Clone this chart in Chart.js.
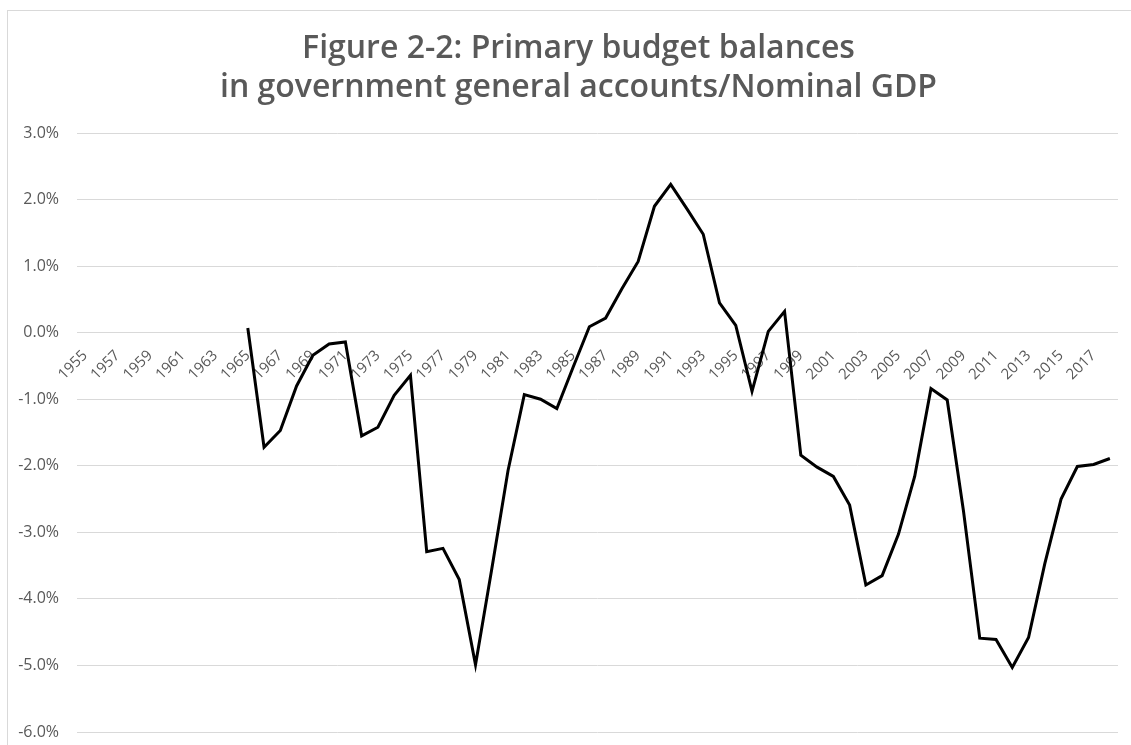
<!DOCTYPE html>
<html>
<head>
<meta charset="utf-8">
<script src="https://cdn.jsdelivr.net/npm/chart.js@4.4.1/dist/chart.umd.min.js"></script>
<style>
  html, body { margin: 0; padding: 0; background: #fff; overflow: hidden; }
  #frame { position: absolute; left: 7px; top: 10px; width: 1200px; height: 800px; border: 1px solid #d9d9d9; }
  #wrap { position: absolute; left: 0; top: 0; width: 1157px; height: 745px; }
</style>
</head>
<body>
<div id="frame"></div>
<div id="wrap"><canvas id="chart"></canvas></div>
<script>
// Fiscal years on the category axis
const years = [
  '1955', '1956', '1957', '1958', '1959', '1960', '1961', '1962', '1963', '1964',
  '1965', '1966', '1967', '1968', '1969', '1970', '1971', '1972', '1973', '1974',
  '1975', '1976', '1977', '1978', '1979', '1980', '1981', '1982', '1983', '1984',
  '1985', '1986', '1987', '1988', '1989', '1990', '1991', '1992', '1993', '1994',
  '1995', '1996', '1997', '1998', '1999', '2000', '2001', '2002', '2003', '2004',
  '2005', '2006', '2007', '2008', '2009', '2010', '2011', '2012', '2013', '2014',
  '2015', '2016', '2017', '2018'
];

// Primary balance / nominal GDP (%), no data before 1965
const primaryBalance = [
  null, null, null, null, null, null, null, null, null, null,
  0.07, -1.72, -1.47, -0.80, -0.34, -0.17, -0.14, -1.55, -1.42, -0.94,
  -0.64, -3.29, -3.24, -3.71, -4.99, -3.55, -2.07, -0.93, -1.00, -1.14,
  -0.52, 0.09, 0.22, 0.66, 1.07, 1.90, 2.23, 1.86, 1.48, 0.45,
  0.11, -0.88, 0.02, 0.32, -1.84, -2.02, -2.16, -2.59, -3.79, -3.65,
  -3.03, -2.16, -0.84, -1.01, -2.68, -4.59, -4.61, -5.03, -4.58, -3.47,
  -2.50, -2.01, -1.98, -1.89
];

const titleLines = [
  'Figure 2-2: Primary budget balances',
  'in government general accounts/Nominal GDP'
];

const grey = '#595959';
const gridGrey = '#d9d9d9';

const ctx = document.getElementById('chart').getContext('2d');
new Chart(ctx, {
  type: 'line',
  data: {
    labels: years,
    datasets: [{
      label: 'Primary balance',
      data: primaryBalance,
      borderColor: '#000000',
      borderWidth: 3,
      pointRadius: 0,
      tension: 0,
      spanGaps: false
    }]
  },
  options: {
    responsive: true,
    maintainAspectRatio: false,
    animation: false,
    layout: { padding: { left: 0, right: 0, top: 0, bottom: 13 } },
    plugins: {
      legend: { display: false },
      tooltip: { enabled: false },
      title: {
        display: true,
        text: titleLines,
        color: grey,
        font: { family: 'Open Sans', size: 32, weight: '600', lineHeight: 1.22 },
        padding: { top: 29, bottom: 26 }
      }
    },
    scales: {
      x: {
        position: { y: 0 },
        offset: true,
        // axis sits on the 0% line, so it takes no room of its own
        afterFit: s => { s.height = 0; s.paddingLeft = 0; s.paddingRight = 39; },
        grid: { display: false, drawTicks: false },
        border: { display: false },
        ticks: {
          autoSkip: false,
          minRotation: 45,
          maxRotation: 45,
          padding: 14,
          color: grey,
          font: { family: 'Open Sans', size: 15 },
          callback: (v, i) => (i % 2 === 0 ? years[i] : '')
        }
      },
      y: {
        min: -6,
        max: 3,
        afterFit: s => { s.width = 77; s.paddingBottom = 0; },
        grid: { color: gridGrey, lineWidth: 1, drawTicks: false },
        border: { display: false },
        ticks: {
          stepSize: 1,
          padding: 18,
          color: grey,
          font: { family: 'Open Sans', size: 16 },
          callback: v => v.toFixed(1) + '%'
        }
      }
    }
  }
});
</script>
</body>
</html>
